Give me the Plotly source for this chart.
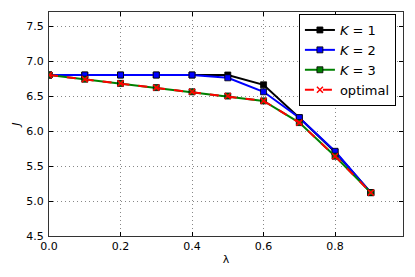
import plotly.graph_objects as go

lam = [0.0, 0.1, 0.2, 0.3, 0.4, 0.5, 0.6, 0.7, 0.8, 0.9]
J_k1 = [6.80, 6.80, 6.80, 6.80, 6.80, 6.80, 6.66, 6.19, 5.70, 5.12]
J_k2 = [6.80, 6.80, 6.80, 6.80, 6.80, 6.76, 6.56, 6.19, 5.71, 5.12]
J_k3 = [6.80, 6.74, 6.68, 6.62, 6.56, 6.50, 6.43, 6.12, 5.64, 5.12]
J_opt = [6.80, 6.74, 6.68, 6.62, 6.56, 6.50, 6.43, 6.12, 5.64, 5.12]

x_ticks = [0.0, 0.2, 0.4, 0.6, 0.8]
x_ticklabels = ["0.0", "0.2", "0.4", "0.6", "0.8"]
y_ticks = [4.5, 5.0, 5.5, 6.0, 6.5, 7.0, 7.5]
y_ticklabels = ["4.5", "5.0", "5.5", "6.0", "6.5", "7.0", "7.5"]

font = "DejaVu Sans"

fig = go.Figure()
series = [
    ("<i>K</i> = 1", J_k1, "black", "solid", "square"),
    ("<i>K</i> = 2", J_k2, "#0000ff", "solid", "square"),
    ("<i>K</i> = 3", J_k3, "#008000", "solid", "square"),
]
for name, ys, col, dash, sym in series:
    fig.add_trace(go.Scatter(
        x=lam, y=ys, name=name, mode="lines+markers",
        line=dict(color=col, width=2, dash=dash),
        marker=dict(symbol=sym, size=6, color=col,
                    line=dict(color="black", width=0.8)),
    ))
fig.add_trace(go.Scatter(
    x=lam, y=J_opt, name="optimal", mode="lines+markers",
    line=dict(color="#ff0000", width=2, dash="dash"),
    marker=dict(symbol="x-thin", size=6, color="#ff0000",
                line=dict(color="#ff0000", width=1.5)),
))

axis_common = dict(
    showline=True, linecolor="#333333", linewidth=1.3, mirror="ticks",
    ticks="inside", ticklen=4, tickcolor="black",
    showgrid=True, gridcolor="#888888", gridwidth=1, griddash="1px,3px",
    zeroline=False, automargin=False,
    tickfont=dict(family=font, size=11, color="black"),
)

fig.update_layout(
    width=415, height=277,
    margin=dict(l=49, r=12, t=12, b=41),
    paper_bgcolor="white", plot_bgcolor="white",
    font=dict(family=font, size=11, color="black"),
    showlegend=True,
    legend=dict(
        x=0.98, y=0.991, xanchor="right", yanchor="top",
        bgcolor="white", bordercolor="black", borderwidth=1,
        font=dict(family=font, size=13, color="black"),
        tracegroupgap=0, itemwidth=30,
    ),
    xaxis=dict(range=[0, 0.99], tickvals=x_ticks, ticktext=x_ticklabels,
               ticklabelstandoff=0,
               title=dict(text="λ", font=dict(family=font, size=11), standoff=2),
               **axis_common),
    yaxis=dict(range=[4.5, 7.7], tickvals=y_ticks, ticktext=y_ticklabels,
               ticklabelstandoff=2,
               title=dict(text="<i>J</i>", font=dict(family=font, size=11), standoff=3),
               **axis_common),
)

fig.write_html("out.html", config={"displayModeBar": False},
               post_script="document.body.style.margin='0px';document.body.style.padding='0px';")
